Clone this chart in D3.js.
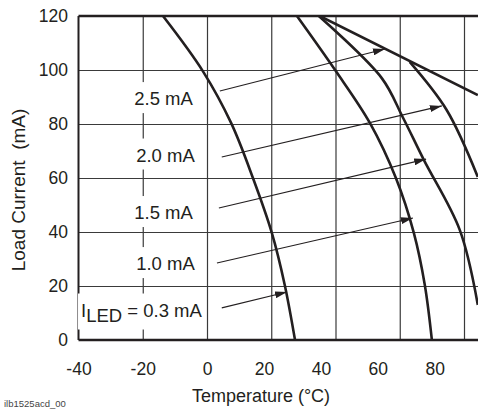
<!DOCTYPE html>
<html>
<head>
<meta charset="utf-8">
<script src="https://cdn.jsdelivr.net/npm/d3@7"></script>
<style>
  body { margin: 0; background: #fff; }
  svg { display: block; font-family: "Liberation Sans", Arial, sans-serif; }
  .lbl { white-space: pre; }
</style>
</head>
<body>
<div id="chart"></div>
<script>
/******************************* Data **************************/
var xTicks = [-40, -20, 0, 20, 40, 60, 80];
var yTicks = [0, 20, 40, 60, 80, 100, 120];

// load current (mA) vs ambient temperature (C), one curve per LED current
var curve03 = [[-13.7,120],[-1.3,99.6],[7.5,80.4],[14.3,60],[20.2,39.6],[24.2,20.4],[27.4,0]];
var curve10 = [[28.0,120],[40.1,99.6],[50.7,80.4],[58.8,60],[64.4,39.6],[67.8,20.4],[70.0,0]];
var curve15 = [[34.8,120],[54.4,97],[60.9,82.6],[67.5,66.7],[78.7,40.7],[84.3,13]];
var curve20 = [[63.1,103],[74.6,85.2],[84.3,60.4]];
var curve25 = [[35.1,120],[84.3,90.7]];

// labels and their pointer arrows
var labelText = ["2.5 mA", "2.0 mA", "1.5 mA", "1.0 mA", "0.3 mA"];
var labelAt = [[-4.4,89.4],[-3.8,68.5],[-4.4,47.2],[-3.8,28.3],[-1.6,11.1]];
var arrowFrom = [[4.0,92.2],[4.6,67.8],[3.7,48.9],[3.1,28.5],[4.6,11.9]];
var arrowTo = [[55.4,107.8],[73.1,86.7],[68.2,67.0],[64.1,45.2],[24.9,17.8]];

/******************************* Chart **************************/
var W = 478, H = 410;
var margin = {top: 16, left: 78.5, bottom: 70};
var h = H - margin.top - margin.bottom;   // 324

var svg = d3.select("#chart").append("svg")
    .attr("width", W)
    .attr("height", H);

var x = d3.scaleLinear().domain([-40, 80]).range([margin.left, 464]);
var y = d3.scaleLinear().domain([0, 120]).range([margin.top + h, margin.top]);

// the printed tick numbers in the original don't sit on the grid lines
var xLabel = d3.scaleLinear().domain([-40, 0, 80]).range([x(-40), x(0), x(70.9)]);

var ink = "#231f20";

// grid
svg.append("g")
    .attr("transform", "translate(0," + (margin.top + h) + ")")
    .call(d3.axisBottom(x).tickValues(xTicks.slice(1)).tickSize(-h).tickFormat(""))
    .call(function(g) { g.select(".domain").remove(); })
    .selectAll("line")
    .attr("stroke", "#3a3a3a")
    .attr("stroke-width", 1.2);

svg.append("g")
    .attr("transform", "translate(" + margin.left + ",0)")
    .call(d3.axisLeft(y).tickValues(yTicks.slice(1, -1)).tickSize(-(W - margin.left)).tickFormat(""))
    .call(function(g) { g.select(".domain").remove(); })
    .selectAll("line")
    .attr("stroke", "#3a3a3a")
    .attr("stroke-width", 1.2);

// frame (left, top, bottom)
svg.append("line")
    .attr("x1", x(-40)).attr("x2", x(-40))
    .attr("y1", y(120)).attr("y2", y(0))
    .attr("stroke", ink).attr("stroke-width", 2);
svg.append("line")
    .attr("x1", x(-40)).attr("x2", W)
    .attr("y1", y(120)).attr("y2", y(120))
    .attr("stroke", ink).attr("stroke-width", 2.5);
svg.append("line")
    .attr("x1", x(-40)).attr("x2", W)
    .attr("y1", y(0)).attr("y2", y(0))
    .attr("stroke", ink).attr("stroke-width", 2.5);

// tick labels (plain hyphen for negatives, as printed)
var plain = function(d) { return String(d); };

var xAxis = svg.append("g")
    .attr("transform", "translate(0," + (margin.top + h) + ")")
    .call(d3.axisBottom(xLabel).tickValues(xTicks).tickSize(0).tickPadding(23).tickFormat(plain));
xAxis.select(".domain").remove();
xAxis.selectAll("text")
    .style("font-size", "17.5px")
    .attr("fill", ink);

var yAxis = svg.append("g")
    .attr("transform", "translate(" + margin.left + ",0)")
    .call(d3.axisLeft(y).tickValues(yTicks).tickSize(0).tickPadding(10.5).tickFormat(plain));
yAxis.select(".domain").remove();
yAxis.selectAll("text")
    .style("font-size", "17.5px")
    .attr("fill", ink);
xAxis.attr("font-family", null);
yAxis.attr("font-family", null);

// axis titles
svg.append("text")
    .attr("x", 261)
    .attr("y", 402)
    .attr("text-anchor", "middle")
    .style("font-size", "18px")
    .attr("fill", ink)
    .text("Temperature (\u00B0C)");

svg.append("text")
    .attr("class", "lbl")
    .attr("transform", "translate(25,190) rotate(-90)")
    .attr("text-anchor", "middle")
    .style("font-size", "19px")
    .attr("fill", ink)
    .text("Load Current  (mA)");

svg.append("text")
    .attr("x", 4)
    .attr("y", 407)
    .style("font-size", "9.5px")
    .attr("fill", "#444")
    .text("ilb1525acd_00");

// curves, clipped to the plot area
svg.append("clipPath").attr("id", "plot")
  .append("rect")
    .attr("x", x(-40)).attr("y", y(120))
    .attr("width", W - x(-40)).attr("height", h);

var line = d3.line()
    .x(function(d) { return x(d[0]); })
    .y(function(d) { return y(d[1]); })
    .curve(d3.curveCatmullRom.alpha(0.5));

svg.append("g")
    .attr("clip-path", "url(#plot)")
  .selectAll("path")
  .data([curve03, curve10, curve15, curve20, curve25])
  .enter().append("path")
    .attr("d", line)
    .attr("fill", "none")
    .attr("stroke", ink)
    .attr("stroke-width", 2.6);

// labels with white boxes that cut the grid
var labels = svg.append("g")
  .selectAll("g")
  .data(labelText)
  .enter().append("g");

var texts = labels.append("text")
    .attr("class", "lbl")
    .attr("x", function(d, i) { return x(labelAt[i][0]); })
    .attr("y", function(d, i) { return y(labelAt[i][1]); })
    .attr("dy", "0.35em")
    .attr("text-anchor", "end")
    .style("font-size", "18.5px")
    .attr("fill", ink);

texts.each(function(d, i) {
  var t = d3.select(this);
  if (i === labelText.length - 1) {
    t.append("tspan").text("I");
    t.append("tspan").attr("dy", 5).text("LED");
    t.append("tspan").attr("dy", -5).text(" = " + d);
  } else {
    t.text(d);
  }
});

labels.each(function() {
  var g = d3.select(this);
  var b = g.select("text").node().getBBox();
  g.insert("rect", "text")
    .attr("x", b.x - 3)
    .attr("y", b.y - 6)
    .attr("width", b.width + 6)
    .attr("height", b.height + 10)
    .attr("fill", "#fff");
});

// pointer arrows
svg.append("defs").append("marker")
    .attr("id", "head")
    .attr("viewBox", "0 0 12 7")
    .attr("refX", 12)
    .attr("refY", 3.5)
    .attr("markerUnits", "userSpaceOnUse")
    .attr("markerWidth", 12)
    .attr("markerHeight", 7)
    .attr("orient", "auto")
  .append("path")
    .attr("d", "M0,0L12,3.5L0,7Z")
    .attr("fill", ink);

svg.append("g")
  .selectAll("line")
  .data(arrowFrom)
  .enter().append("line")
    .attr("x1", function(d) { return x(d[0]); })
    .attr("y1", function(d) { return y(d[1]); })
    .attr("x2", function(d, i) { return x(arrowTo[i][0]); })
    .attr("y2", function(d, i) { return y(arrowTo[i][1]); })
    .attr("stroke", ink)
    .attr("stroke-width", 1.1)
    .attr("marker-end", "url(#head)");
</script>
</body>
</html>
